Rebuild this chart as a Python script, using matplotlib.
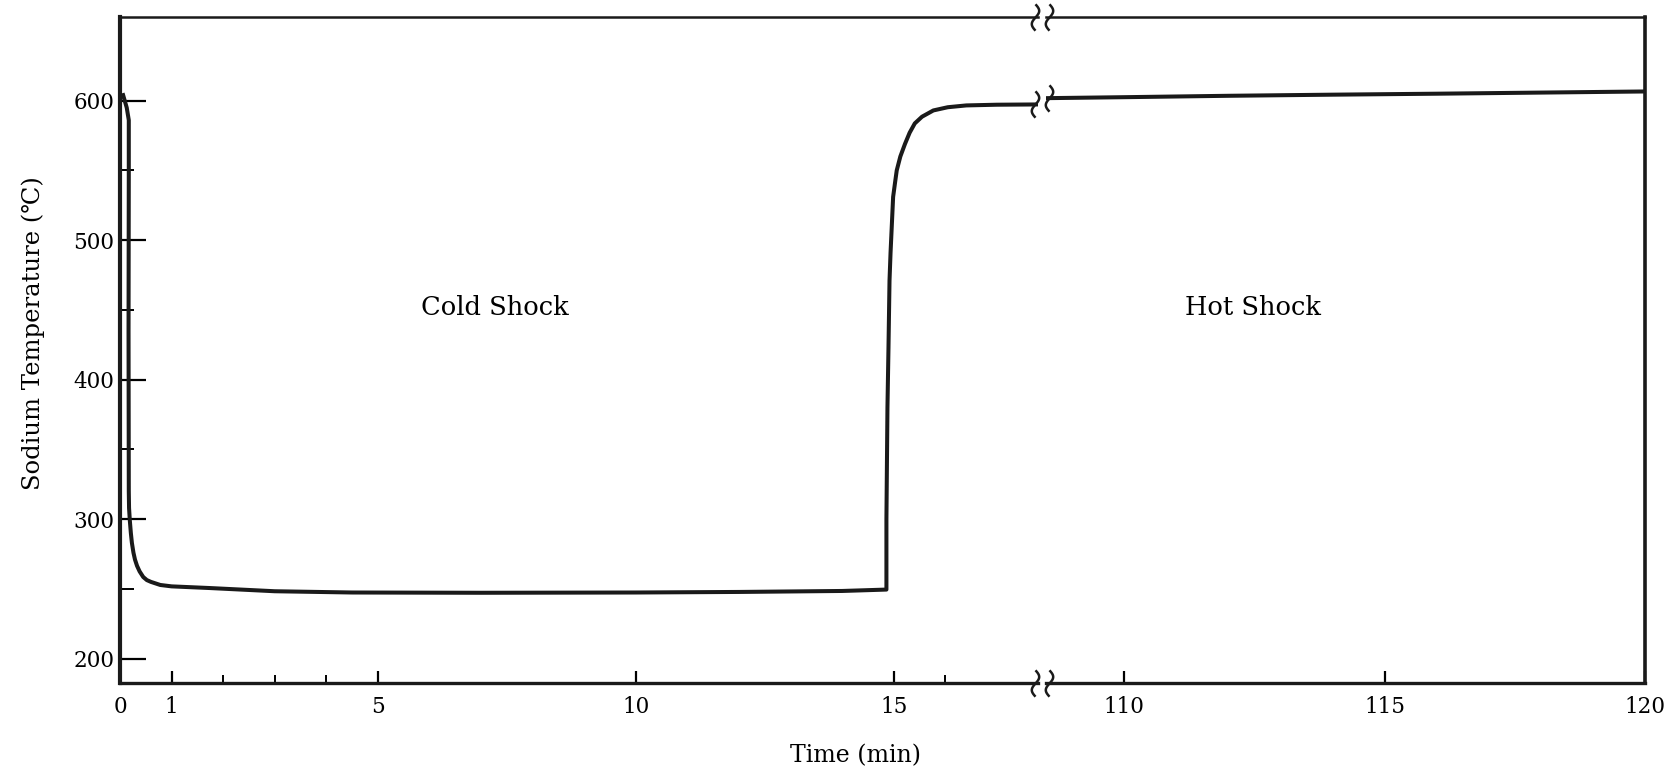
import numpy as np
import matplotlib
matplotlib.use('Agg')
import matplotlib.pyplot as plt
from matplotlib.path import Path

# sodium temperature
cold_t = [0.06, 0.13, 0.17, 0.17, 0.165, 0.17, 0.175, 0.19, 0.21, 0.23, 0.26,
          0.29, 0.33, 0.38, 0.45, 0.52, 0.60, 0.78, 1.0, 1.74, 3.0, 4.5, 7.0,
          10.0, 12.0, 14.0, 14.86,
          14.86, 14.88, 14.90, 14.92, 14.94, 14.97, 14.99, 15.03, 15.06, 15.13,
          15.22, 15.31, 15.41, 15.55, 15.77, 16.05, 16.41, 17.0, 17.8]
cold_v = [604, 595, 586, 550, 435, 320, 308, 299, 290, 283, 276,
          271, 266.5, 262.5, 258.5, 256.3, 255, 252.8, 251.8, 250.6, 248.3, 247.4, 247.2,
          247.4, 247.8, 248.5, 249.5,
          300, 380, 423, 471, 491, 515, 531, 542, 550, 560,
          569, 577, 583.7, 588.5, 593, 595.3, 596.6, 597.1, 597.3]
hot_t = [108.5, 110, 112, 114, 116, 118, 120]
hot_v = [601.8, 602.5, 603.5, 604.3, 605.0, 605.8, 606.6]

left_major = [0, 1, 5, 10, 15]
left_minor = [2, 3, 4, 16]
right_major = [110, 115, 120]
y_major = [200, 300, 400, 500, 600]
y_minor = [250, 350, 450, 550]

fs = 15.5
serif = ['DejaVu Serif', 'DejaVu Sans']
plt.rcParams['font.family'] = serif

fig = plt.figure(figsize=(16.74, 7.79), dpi=100)
ax1 = fig.add_axes([0.0717, 0.1232, 0.5484, 0.855])
ax2 = fig.add_axes([0.6249, 0.1232, 0.3578, 0.855])

ax1.plot(cold_t, cold_v, color='#1a1a1a', lw=2.9, solid_joinstyle='round')
ax2.plot(hot_t, hot_v, color='#1a1a1a', lw=2.9)

for ax in (ax1, ax2):
    ax.set_ylim(182.5, 660)
    ax.tick_params(axis='x', which='major', direction='in', length=9,
                   width=1.6, pad=9, labelsize=fs)
    ax.tick_params(axis='x', which='minor', direction='in', length=6,
                   width=1.4)
    for s in ax.spines.values():
        s.set_color('#1a1a1a')
    ax.spines['bottom'].set_linewidth(2.4)
    ax.spines['top'].set_linewidth(1.8)

ax1.set_xlim(0, 17.8)
ax1.set_xticks(left_major)
ax1.set_xticks(left_minor, minor=True)
ax1.set_yticks(y_major)
ax1.set_yticks(y_minor, minor=True)
ax1.tick_params(axis='y', which='major', direction='in', length=19,
                width=1.6, pad=4, labelsize=fs)
ax1.tick_params(axis='y', which='minor', direction='in', length=10, width=1.4)
ax1.spines['right'].set_visible(False)
ax1.spines['left'].set_linewidth(3.0)

ax2.set_xlim(108.5, 120)
ax2.set_xticks(right_major)
ax2.set_yticks([])
ax2.spines['left'].set_visible(False)
ax2.spines['right'].set_linewidth(2.6)

# break marks
s = np.linspace(-1, 1, 40)
sq = Path(np.column_stack([0.28 * np.sin(np.pi * s), s]))
mk = dict(marker=sq, markersize=19, mfc='none', mec='#1a1a1a', mew=1.8,
          ls='none', clip_on=False, zorder=5)
for yy in (182.5, 660, cold_v[-1]):
    ax1.plot([17.75], [yy], **mk)
for yy in (182.5, 660, hot_v[0]):
    ax2.plot([108.55], [yy], **mk)

ax1.text(7.26, 452, 'Cold Shock', fontsize=18.5, ha='center', va='center')
ax2.text(112.48, 452, 'Hot Shock', fontsize=18.5, ha='center', va='center')

fig.text(0.511, 0.03, 'Time (min)', fontsize=17, ha='center', va='center')
fig.text(0.0197, 0.573, 'Sodium Temperature (℃)', fontsize=17.5,
         rotation=90, ha='center', va='center')

fig.savefig('out.png', dpi=100)
